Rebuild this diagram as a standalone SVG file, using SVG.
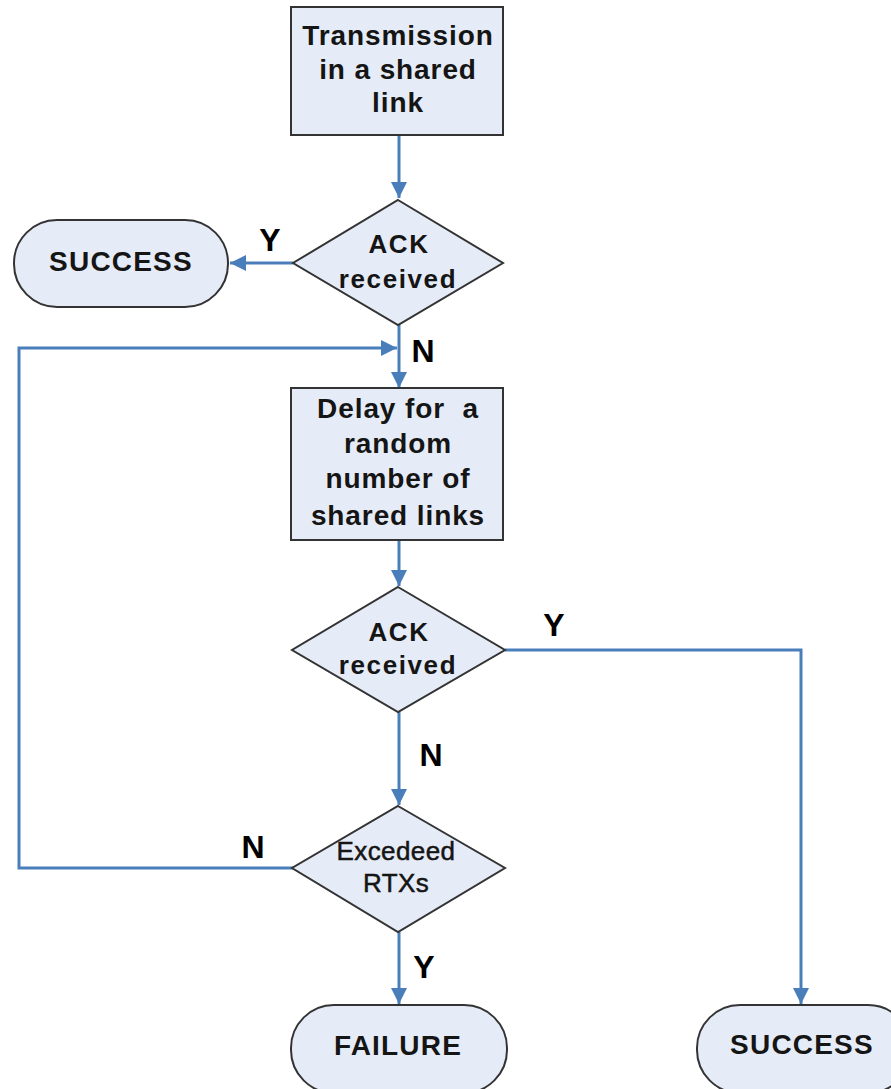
<svg xmlns="http://www.w3.org/2000/svg" width="891" height="1089" viewBox="0 0 891 1089">
<style>
.shape{fill:#e6ecf7;stroke:#333;stroke-width:2}
.conn{fill:none;stroke:#4a7ebb;stroke-width:3}
.t{font-family:"Liberation Sans",Arial,sans-serif;font-weight:bold;fill:#151515;text-anchor:middle}
.b{font-size:28px;letter-spacing:0.9px}
.d{font-size:26px;letter-spacing:1.6px}
.e{font-size:26px;font-weight:normal;letter-spacing:0.4px;stroke:#151515;stroke-width:0.5}
.s{font-size:28px;letter-spacing:1.2px}
.lbl{font-family:"Liberation Sans",Arial,sans-serif;font-weight:bold;font-size:32px;fill:#000;text-anchor:middle}
</style>
<defs>
<marker id="arr" markerUnits="userSpaceOnUse" markerWidth="18" markerHeight="16" refX="16" refY="8" orient="auto">
<path d="M0,0 L16,8 L0,16 Z" fill="#4a7ebb"/>
</marker>
</defs>
<g id="connectors">
<path class="conn" d="M399,135 V198" marker-end="url(#arr)"/>
<path class="conn" d="M293,263 H230" marker-end="url(#arr)"/>
<path class="conn" d="M399,325 V388" marker-end="url(#arr)"/>
<path class="conn" d="M293,868 H19 V348 H397" marker-end="url(#arr)"/>
<path class="conn" d="M399,540 V586" marker-end="url(#arr)"/>
<path class="conn" d="M505,650 H801 V1004" marker-end="url(#arr)"/>
<path class="conn" d="M399,712 V805" marker-end="url(#arr)"/>
<path class="conn" d="M399,932 V1004" marker-end="url(#arr)"/>
<text class="lbl" x="270" y="251">Y</text>
<text class="lbl" x="423" y="362">N</text>
<text class="lbl" x="554" y="636">Y</text>
<text class="lbl" x="431" y="766">N</text>
<text class="lbl" x="253" y="858">N</text>
<text class="lbl" x="424" y="978">Y</text>
</g>
<g id="tx1">
<rect class="shape" x="291" y="7" width="212" height="128"/>
<text class="t b" x="398" y="45">Transmission</text>
<text class="t b" x="398" y="79">in a shared</text>
<text class="t b" x="398" y="112">link</text>
</g>
<g id="ack1">
<path class="shape" d="M398,200 L503,263 L398,325 L293,263 Z"/>
<text class="t d" x="399" y="253">ACK</text>
<text class="t d" x="398" y="288">received</text>
</g>
<g id="success1">
<rect class="shape" x="14" y="220" width="214" height="87" rx="43" ry="43"/>
<text class="t s" x="121" y="271">SUCCESS</text>
</g>
<g id="delay">
<rect class="shape" x="291" y="388" width="212" height="152"/>
<text class="t b" x="398" y="418" xml:space="preserve">Delay for  a</text>
<text class="t b" x="398" y="453">random</text>
<text class="t b" x="398" y="488">number of</text>
<text class="t b" x="398" y="525">shared links</text>
</g>
<g id="ack2">
<path class="shape" d="M398,587 L505,650 L398,712 L292,650 Z"/>
<text class="t d" x="399" y="641">ACK</text>
<text class="t d" x="398" y="674">received</text>
</g>
<g id="exceeded">
<path class="shape" d="M398,806 L505,868 L398,932 L292,868 Z"/>
<text class="t e" x="396" y="860">Excedeed</text>
<text class="t e" x="396" y="892">RTXs</text>
</g>
<g id="failure">
<rect class="shape" x="291" y="1005" width="216" height="88" rx="43" ry="43"/>
<text class="t s" x="398" y="1055">FAILURE</text>
</g>
<g id="success2">
<rect class="shape" x="697" y="1005" width="214" height="88" rx="43" ry="43"/>
<text class="t s" x="802" y="1054">SUCCESS</text>
</g>
</svg>
